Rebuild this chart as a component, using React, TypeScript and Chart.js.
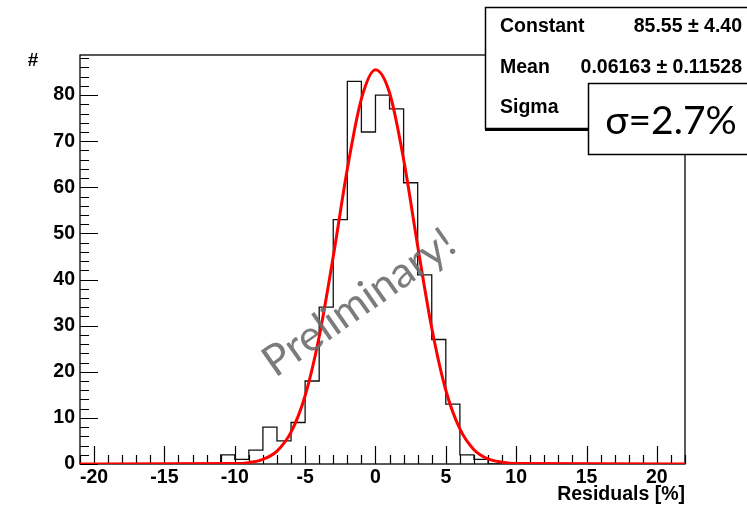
import React, { useEffect, useRef } from 'react';
import { Chart, registerables } from 'chart.js';

Chart.register(...registerables);

// Histogram: bins of width 1 from -21 to 22 (low edges + counts)
const binLowEdges = [
  -21, -20, -19, -18, -17, -16, -15, -14, -13, -12, -11, -10, -9, -8, -7, -6, -5, -4, -3, -2, -1,
  0, 1, 2, 3, 4, 5, 6, 7, 8, 9, 10, 11, 12, 13, 14, 15, 16, 17, 18, 19, 20, 21,
];
const binCounts = [
  0, 0, 0, 0, 0, 0, 0, 0, 0, 0, 2, 1, 3, 8, 5, 9, 18, 34, 53, 83, 72,
  80, 77, 61, 41, 27, 13, 2, 1, 0, 0, 0, 0, 0, 0, 0, 0, 0, 0, 0, 0, 0, 0,
];
const histUpperEdge = 22;

// Fitted gaussian curve
const fitX = [-21, -10, -9, -8, -7, -6, -5, -4, -3, -2, -1, 0, 1, 2, 3, 4, 5, 6, 7, 8, 9, 10, 22];
const fitY = [0, 0.1, 0.3, 1.0, 2.8, 6.9, 14.8, 27.6, 45.0, 64.0, 79.2, 85.5, 80.5, 66.1, 47.3, 29.5, 16.0, 7.6, 3.1, 1.1, 0.4, 0.1, 0];

const xMin = -21;
const xMax = 22;
const yMin = 0;
const yMax = 88.7;

const xMajorTicks = [-20, -15, -10, -5, 0, 5, 10, 15, 20];
const xTickLabels = ['-20', '-15', '-10', '-5', '0', '5', '10', '15', '20'];
const yMajorTicks = [0, 10, 20, 30, 40, 50, 60, 70, 80];
const yTickLabels = ['0', '10', '20', '30', '40', '50', '60', '70', '80'];

const statNames = ['Constant', 'Mean', 'Sigma'];
const statValues = ['85.55 \u00b1 4.40', '0.06163 \u00b1 0.11528', ''];
const sigmaNote = '\u03c3=2.7%';
const watermark = 'Preliminary!';
const xTitle = 'Residuals [%]';
const yTitle = '#';

const BOLD = 'bold 19.5px "Liberation Sans", Arial, sans-serif';

function drawText(ctx: CanvasRenderingContext2D, text: string, x: number, y: number, align: CanvasTextAlign, font: string, color = '#000') {
  ctx.save();
  ctx.font = font;
  ctx.fillStyle = color;
  ctx.textAlign = align;
  ctx.textBaseline = 'middle';
  ctx.fillText(text, x, y);
  ctx.restore();
}

const rootAxesPlugin = {
  id: 'rootAxes',
  beforeDatasetsDraw(chart: any) {
    const { ctx, chartArea: a, scales } = chart;
    const xs = scales.x;
    const ys = scales.y;
    ctx.save();
    ctx.strokeStyle = '#000';
    ctx.lineWidth = 1.3;
    ctx.strokeRect(a.left, a.top, a.right - a.left, a.bottom - a.top);
    ctx.lineWidth = 1.2;
    ctx.beginPath();
    for (let v = 0; v <= yMax; v += 2) {
      const py = Math.round(ys.getPixelForValue(v)) + 0.5;
      const len = v % 10 === 0 ? 18 : 9;
      ctx.moveTo(a.left, py);
      ctx.lineTo(a.left + len, py);
    }
    for (let v = Math.ceil(xMin); v <= xMax; v += 1) {
      const px = Math.round(xs.getPixelForValue(v)) + 0.5;
      const len = v % 5 === 0 ? 18 : 9;
      ctx.moveTo(px, a.bottom);
      ctx.lineTo(px, a.bottom - len);
    }
    ctx.stroke();
    ctx.restore();

    yMajorTicks.forEach((v, i) => {
      drawText(ctx, yTickLabels[i], a.left - 5, ys.getPixelForValue(v), 'right', BOLD);
    });
    xMajorTicks.forEach((v, i) => {
      drawText(ctx, xTickLabels[i], xs.getPixelForValue(v), a.bottom + 14, 'center', BOLD);
    });
    drawText(ctx, xTitle, a.right, 495, 'right', BOLD);
    drawText(ctx, yTitle, 33, 61, 'center', 'bold 19px "Liberation Sans", Arial, sans-serif');
  },
  afterDraw(chart: any) {
    const { ctx } = chart;
    // watermark
    ctx.save();
    ctx.translate(367, 314);
    ctx.rotate((-35 * Math.PI) / 180);
    ctx.font = '43px Lato, "Open Sans", sans-serif';
    ctx.fillStyle = 'rgba(110,110,110,0.9)';
    ctx.textAlign = 'center';
    ctx.textBaseline = 'alphabetic';
    ctx.fillText(watermark, 0, 0);
    ctx.restore();

    // stats box
    ctx.save();
    ctx.fillStyle = '#fff';
    ctx.strokeStyle = '#000';
    ctx.lineWidth = 1.5;
    ctx.fillRect(485, 7, 300, 121);
    ctx.strokeRect(485.5, 7.5, 300, 121);
    ctx.beginPath();
    ctx.lineWidth = 2;
    ctx.moveTo(485, 130);
    ctx.lineTo(760, 130);
    ctx.stroke();
    ctx.restore();
    const rowsY = [27, 68, 108];
    statNames.forEach((n, i) => {
      drawText(ctx, n, 500, rowsY[i], 'left', BOLD);
      if (statValues[i]) drawText(ctx, statValues[i], 742, rowsY[i], 'right', BOLD);
    });

    // sigma note box
    ctx.save();
    ctx.fillStyle = '#fff';
    ctx.strokeStyle = '#000';
    ctx.lineWidth = 1.5;
    ctx.fillRect(588, 83, 200, 71);
    ctx.strokeRect(588.5, 83.5, 200, 71);
    ctx.restore();
    drawText(ctx, sigmaNote, 671, 121, 'center', '39px Lato, "Open Sans", sans-serif');
  },
};

export default function App() {
  const canvasRef = useRef<HTMLCanvasElement | null>(null);

  useEffect(() => {
    const canvas = canvasRef.current;
    if (!canvas) return;
    const histData = binLowEdges.map((x, i) => ({ x, y: binCounts[i] }));
    histData.push({ x: histUpperEdge, y: binCounts[binCounts.length - 1] });
    const fitData = fitX.map((x, i) => ({ x, y: fitY[i] }));

    const chart = new Chart(canvas, {
      type: 'line',
      data: {
        datasets: [
          {
            label: 'fit',
            data: fitData,
            borderColor: '#ff0000',
            borderWidth: 3,
            pointRadius: 0,
            fill: false,
            cubicInterpolationMode: 'monotone',
          },
          {
            label: 'hist',
            data: histData,
            borderColor: '#111',
            borderWidth: 1.3,
            pointRadius: 0,
            fill: false,
            stepped: 'before',
          },
        ],
      },
      options: {
        animation: false,
        responsive: false,
        maintainAspectRatio: false,
        devicePixelRatio: 1,
        layout: { padding: { left: 80, right: 62, top: 55, bottom: 41 } },
        plugins: { legend: { display: false }, tooltip: { enabled: false } },
        scales: {
          x: { type: 'linear', min: xMin, max: xMax, display: false },
          y: { type: 'linear', min: yMin, max: yMax, display: false },
        },
      },
      plugins: [rootAxesPlugin],
    } as any);
    return () => chart.destroy();
  }, []);

  return (
    <div style={{ position: 'absolute', left: 0, top: 0, width: 747, height: 505, background: '#fff' }}>
      <canvas ref={canvasRef} width={747} height={505} style={{ display: 'block', width: 747, height: 505 }} />
    </div>
  );
}
